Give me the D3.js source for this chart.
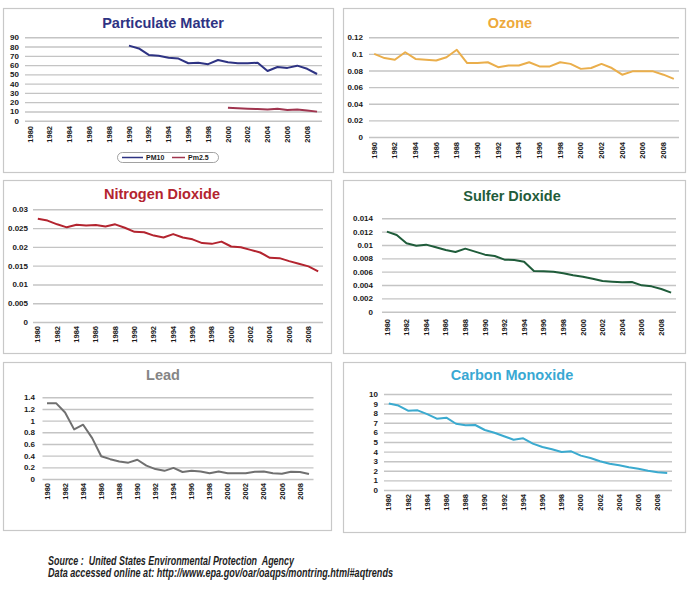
<!DOCTYPE html>
<html lang="en">
<head>
<meta charset="utf-8" />
<title>Air quality trends</title>
<script src="https://cdn.jsdelivr.net/npm/d3@7"></script>
<style>
  body { margin: 0; background: #fff; }
  svg text { font-family: "Liberation Sans", Arial, Helvetica, sans-serif; }
</style>
</head>
<body>
<svg id="chart" width="691" height="591"></svg>
<script>
// years along every x axis
var years = d3.range(1980, 2010);
var yearLabels = years.filter(function(y) { return y % 2 === 0; });

// Particulate matter (PM10 from 1990, PM2.5 from 2000)
var pm10Years = d3.range(1990, 2010);
var pm10 = [81, 78, 71, 70, 68, 67, 62, 62.5, 61, 65.5, 63, 62, 62, 62.5, 53.6, 58, 57, 59.4, 56, 50.4];
var pm25Years = d3.range(2000, 2010);
var pm25 = [14, 13.5, 13, 12.6, 12, 12.8, 11.5, 12, 11, 9.8];

var ozone = [0.100, 0.095, 0.093, 0.102, 0.094, 0.093, 0.092, 0.096, 0.105, 0.089,
             0.089, 0.090, 0.084, 0.086, 0.086, 0.090, 0.085, 0.085, 0.090, 0.088,
             0.082, 0.083, 0.088, 0.083, 0.075, 0.079, 0.079, 0.079, 0.075, 0.070];

var no2 = [0.0275, 0.0270, 0.0260, 0.0252, 0.0259, 0.0257, 0.0258, 0.0254, 0.0260, 0.0251,
           0.0240, 0.0239, 0.0230, 0.0225, 0.0234, 0.0225, 0.0220, 0.0210, 0.0208, 0.0214,
           0.0201, 0.0199, 0.0192, 0.0185, 0.0171, 0.0170, 0.0162, 0.0155, 0.0148, 0.0135];

var so2 = [0.0120, 0.0115, 0.01025, 0.0099, 0.01005, 0.00965, 0.00925, 0.00895, 0.00945, 0.0090,
           0.00855, 0.00835, 0.0078, 0.00775, 0.0075, 0.0061, 0.00605, 0.0060, 0.00575, 0.00545,
           0.00525, 0.00495, 0.0046, 0.0045, 0.0044, 0.00445, 0.00395, 0.0038, 0.0034, 0.00285];

var lead = [1.30, 1.30, 1.14, 0.85, 0.93, 0.70, 0.39, 0.34, 0.30, 0.28,
            0.33, 0.23, 0.17, 0.14, 0.19, 0.12, 0.14, 0.13, 0.10, 0.13,
            0.10, 0.097, 0.097, 0.125, 0.13, 0.097, 0.09, 0.125, 0.12, 0.085];

var co = [9.0, 8.8, 8.26, 8.3, 7.9, 7.43, 7.53, 6.9, 6.74, 6.77,
          6.25, 5.97, 5.6, 5.24, 5.38, 4.83, 4.48, 4.24, 3.96, 4.03,
          3.58, 3.33, 2.99, 2.74, 2.57, 2.36, 2.22, 2.01, 1.84, 1.77];

// y axis tick values per panel
var pmTicks = d3.range(0, 10).map(function(i) { return i * 10; });
var ozoneTicks = d3.range(0, 7).map(function(i) { return +(i * 0.02).toFixed(3); });
var no2Ticks = d3.range(0, 7).map(function(i) { return +(i * 0.005).toFixed(4); });
var so2Ticks = d3.range(0, 8).map(function(i) { return +(i * 0.002).toFixed(4); });
var leadTicks = d3.range(0, 8).map(function(i) { return +(i * 0.2).toFixed(2); });
var coTicks = d3.range(0, 11);

var svg = d3.select("#chart");

// layout of each panel (box, plot area, title) -- positions only
var panels = [
  { title: "Particulate Matter", titleColor: "#2e3383", box: [3, 8, 330, 164], titleX: 163, titleY: 28,
    x0: 25, x1: 322, yb: 120.7, yt: 37.3, ticks: pmTicks, labelX: 19, yearY: 126,
    series: [
      { years: pm10Years, values: pm10, color: "#2e3383" },
      { years: pm25Years, values: pm25, color: "#a0354f" }
    ] },
  { title: "Ozone", titleColor: "#eda93b", box: [343, 8, 342, 164], titleX: 510, titleY: 28,
    x0: 369, x1: 679, yb: 137, yt: 37.3, ticks: ozoneTicks, labelX: 363, yearY: 142,
    series: [{ years: years, values: ozone, color: "#eaae4b" }] },
  { title: "Nitrogen Dioxide", titleColor: "#b3242f", box: [3, 180, 328, 173], titleX: 162, titleY: 199,
    x0: 33, x1: 323, yb: 322, yt: 209.3, ticks: no2Ticks, labelX: 28, yearY: 326,
    series: [{ years: years, values: no2, color: "#b3242f" }] },
  { title: "Sulfer Dioxide", titleColor: "#1f5c3a", box: [343, 180, 342, 173], titleX: 512, titleY: 201,
    x0: 382, x1: 676, yb: 311.7, yt: 218.3, ticks: so2Ticks, labelX: 373, yearY: 319,
    series: [{ years: years, values: so2, color: "#1f5c3a" }] },
  { title: "Lead", titleColor: "#858585", box: [3, 362, 328, 168], titleX: 163, titleY: 380,
    x0: 42.5, x1: 313.5, yb: 479, yt: 397.3, ticks: leadTicks, labelX: 35, yearY: 483,
    series: [{ years: years, values: lead, color: "#707070" }] },
  { title: "Carbon Monoxide", titleColor: "#39a8d3", box: [343, 362, 342, 170], titleX: 512, titleY: 380,
    x0: 384, x1: 672, yb: 490, yt: 394, ticks: coTicks, labelX: 378, yearY: 494,
    series: [{ years: years, values: co, color: "#3baacf" }] }
];

var fmt = d3.format("~g");

panels.forEach(function(p) {
  var g = svg.append("g");

  g.append("rect")
    .attr("x", p.box[0] + 0.5).attr("y", p.box[1] + 0.5)
    .attr("width", p.box[2]).attr("height", p.box[3])
    .attr("fill", "#fff").attr("stroke", "#c8c8c8").attr("stroke-width", 1.2);

  g.append("text")
    .attr("x", p.titleX).attr("y", p.titleY)
    .attr("text-anchor", "middle")
    .attr("font-size", 14.5).attr("font-weight", "bold")
    .attr("fill", p.titleColor)
    .text(p.title);

  var x = d3.scaleBand().domain(years).range([p.x0, p.x1]);
  var yMax = p.ticks[p.ticks.length - 1];
  var y = d3.scaleLinear().domain([0, yMax]).range([p.yb, p.yt]);

  // gridlines + labels
  var yAxis = d3.axisLeft(y).tickValues(p.ticks).tickFormat(fmt)
    .tickSize(-(p.x1 - p.x0)).tickPadding(p.x0 - p.labelX);
  var ya = g.append("g").attr("transform", "translate(" + p.x0 + ",0)").call(yAxis);
  ya.select(".domain").remove();
  ya.selectAll("line").attr("stroke", "#c4c4c4").attr("stroke-width", 1.4);
  ya.selectAll("text").attr("font-size", 8).attr("font-weight", "bold")
    .attr("fill", "#1a1a1a").attr("font-family", "'Liberation Sans', Arial, sans-serif");

  // year labels
  var xAxis = d3.axisBottom(x).tickValues(yearLabels).tickSize(0).tickPadding(0);
  var xa = g.append("g").attr("transform", "translate(0," + p.yearY + ")").call(xAxis);
  xa.select(".domain").remove();
  xa.selectAll("text")
    .attr("font-size", 7.5).attr("font-weight", "bold").attr("fill", "#1a1a1a")
    .attr("font-family", "'Liberation Sans', Arial, sans-serif")
    .attr("transform", "rotate(-90)")
    .attr("text-anchor", "end")
    .attr("x", 0).attr("y", 0).attr("dy", "0.35em");

  var line = d3.line()
    .x(function(d) { return x(d[0]) + x.bandwidth() / 2; })
    .y(function(d) { return y(d[1]); });

  p.series.forEach(function(s) {
    g.append("path")
      .datum(d3.zip(s.years, s.values))
      .attr("fill", "none")
      .attr("stroke", s.color)
      .attr("stroke-width", 2)
      .attr("stroke-linejoin", "round")
      .attr("d", line);
  });
});

// legend for the particulate matter panel
var legend = svg.append("g");
legend.append("rect")
  .attr("x", 117.5).attr("y", 152.5).attr("width", 101).attr("height", 10)
  .attr("rx", 5).attr("fill", "#fff").attr("stroke", "#8a8a8a").attr("stroke-width", 0.8);
var legendItems = [
  { name: "PM10", color: "#2e3383", lx: 122, tx: 146 },
  { name: "Pm2.5", color: "#a0354f", lx: 172, tx: 188 }
];
legendItems.forEach(function(d) {
  legend.append("line").attr("x1", d.lx).attr("x2", d.tx - 3)
    .attr("y1", 157.5).attr("y2", 157.5)
    .attr("stroke", d.color).attr("stroke-width", 1.5);
  legend.append("text").attr("x", d.tx).attr("y", 160.3)
    .attr("font-size", 7).attr("font-weight", "bold").attr("fill", "#1a1a1a")
    .text(d.name);
});

// source note
var notes = [
  { text: "Source :  United States Environmental Protection  Agency", y: 564.5, len: 246 },
  { text: "Data accessed online at: http://www.epa.gov/oar/oaqps/montring.html#aqtrends", y: 577, len: 345 }
];
svg.selectAll("text.note").data(notes).enter().append("text")
  .attr("class", "note")
  .attr("x", 48).attr("y", function(d) { return d.y; })
  .attr("font-size", 12.5).attr("font-style", "italic").attr("font-weight", "bold")
  .attr("fill", "#1e1e1e")
  .attr("textLength", function(d) { return d.len; })
  .attr("lengthAdjust", "spacingAndGlyphs")
  .style("white-space", "pre")
  .text(function(d) { return d.text; });
</script>
</body>
</html>
